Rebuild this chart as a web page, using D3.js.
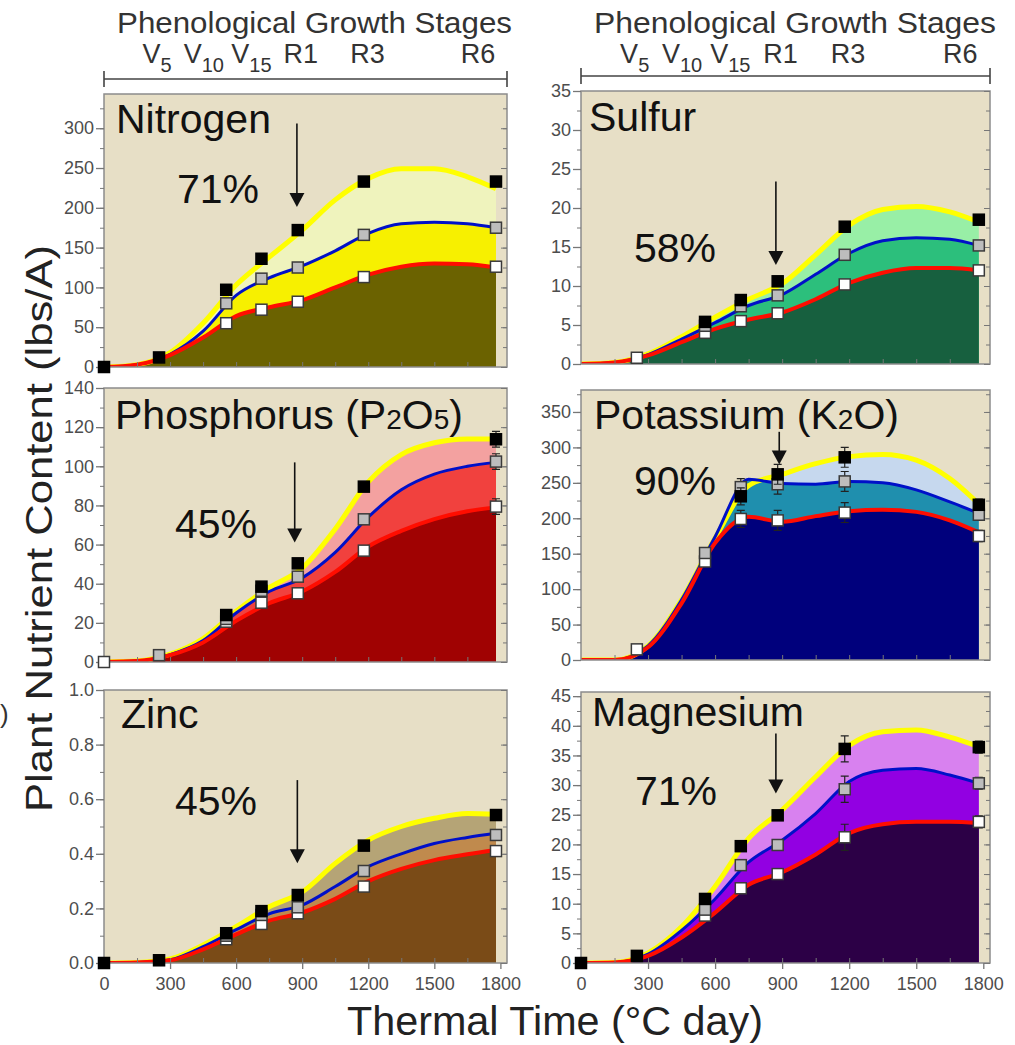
<!DOCTYPE html>
<html>
<head>
<meta charset="utf-8">
<script src="https://cdn.jsdelivr.net/npm/d3@7"></script>
<style>
  body { margin: 0; background: #fff; }
  svg { font-family: "Liberation Sans", Arial, sans-serif; }
</style>
</head>
<body>
<svg id="chart" width="1015" height="1045"></svg>
<script>
// thermal time of the fitted curves and of the sampled points
const tGrid = [0, 150, 300, 450, 600, 750, 900, 1050, 1200, 1350, 1500, 1650, 1780]
const tPts = [0, 250, 555, 715, 880, 1180, 1780]

const stageNames = [['V', '5'], ['V', '10'], ['V', '15'], ['R1', ''], ['R3', ''], ['R6', '']]
const stageTimes = [175, 362, 578, 815, 1118, 1620]

const xTicks = [0, 300, 600, 900, 1200, 1500, 1800]

// Nitrogen
const nTop = [0, 3, 18, 55, 103, 138, 172, 210, 237, 249, 249, 239, 224]
const nMid = [0, 3, 16, 45, 90, 112, 127, 146, 168, 180, 182, 180, 175]
const nBot = [0, 3, 15, 37, 64, 75, 84, 100, 116, 126, 130, 129, 125]
const nBlack = [0, 12, 97, 136, 172, 233, 233]
const nGray = [null, null, 80, 111, 125, 166, 175]
const nWhite = [null, null, 55, 72, 82, 113, 126]

// Sulfur
const sTop = [0, 0.2, 1.3, 3.5, 6.0, 8.3, 10.3, 14.0, 17.8, 19.8, 20.2, 19.5, 18.2]
const sMid = [0, 0.2, 1.2, 3.2, 5.3, 7.5, 8.9, 11.5, 14.2, 15.8, 16.2, 16.0, 15.2]
const sBot = [0, 0.2, 1.1, 2.8, 4.5, 5.7, 6.6, 8.3, 10.4, 11.7, 12.3, 12.3, 12.0]
const sBlack = [null, null, 5.4, 8.2, 10.6, 17.6, 18.5]
const sGray = [null, null, 4.9, 7.4, 8.8, 14.0, 15.2]
const sWhite = [null, 0.8, 4.0, 5.5, 6.5, 10.2, 12.0]

// Phosphorus
const pTop = [0, 0.5, 4, 12, 26, 38, 48, 68, 92, 106, 112, 114, 114]
const pMid = [0, 0.5, 3.8, 11, 25, 36, 43, 56, 74, 88, 96, 100, 102]
const pBot = [0, 0.5, 3.5, 10, 21, 30, 36, 46, 59, 67, 73, 77, 79]
const pBlack = [null, null, 24, 38.5, 50.4, 89.6, 113.8]
const pGray = [null, 3.5, 22, 36.4, 43.6, 72.9, 102.4]
const pWhite = [0, null, 20.6, 30.3, 35.1, 56.9, 79.4]
const pErr = [0, 0, 0, 0, 0, 2, 4]

// Potassium
const kTop = [0, 0, 20, 85, 172, 246, 262, 277, 287, 290, 282, 256, 220]
const kMid = [0, 0, 20, 85, 174, 255, 249, 248, 252, 250, 240, 223, 207]
const kBot = [0, 0, 18, 80, 165, 202, 195, 203, 210, 212, 209, 197, 180]
const kBlack = [null, null, null, 231, 262, 286, 219]
const kGray = [null, null, 151, 244, 248, 252, 205]
const kWhite = [null, 15, 139, 199, 197, 208, 175]
const kErr = [0, 0, 6, 12, 14, 14, 8]

// Zinc
const zTop = [0, 0.002, 0.015, 0.066, 0.133, 0.206, 0.26, 0.365, 0.45, 0.50, 0.53, 0.548, 0.545]
const zMid = [0, 0.002, 0.012, 0.06, 0.122, 0.18, 0.212, 0.28, 0.353, 0.40, 0.438, 0.46, 0.475]
const zBot = [0, 0.002, 0.01, 0.05, 0.105, 0.155, 0.185, 0.235, 0.30, 0.345, 0.377, 0.398, 0.414]
const zBlack = [0, 0.01, 0.109, 0.19, 0.249, 0.43, 0.542]
const zGray = [null, null, 0.10, 0.176, 0.204, 0.337, 0.469]
const zWhite = [null, null, 0.087, 0.143, 0.182, 0.28, 0.41]

// Magnesium
const mTop = [0, 0.1, 1.7, 6.1, 12.9, 21.0, 25.8, 31.4, 36.7, 39.0, 39.3, 38.1, 36.5]
const mMid = [0, 0.1, 1.5, 5.5, 10.8, 17.0, 20.7, 25.2, 30.6, 32.5, 32.8, 31.7, 30.3]
const mBot = [0, 0.1, 1.2, 4.3, 8.5, 13.2, 15.3, 18.3, 21.9, 23.4, 23.8, 23.8, 23.6]
const mBlack = [0, 1.2, 10.8, 19.7, 24.9, 36.1, 36.4]
const mGray = [null, null, 9.0, 16.5, 19.9, 29.3, 30.3]
const mWhite = [null, null, 8.0, 12.6, 15.0, 21.2, 23.8]
const mErr = [0, 0, 0, 0, 0, 2.2, 1]

const none = [0, 0, 0, 0, 0, 0, 0]

const panels = [
  {name: 'Nitrogen', pct: '71%', top: nTop, mid: nMid, bot: nBot, black: nBlack, gray: nGray, white: nWhite, err: none,
   ymax: 343, major: d3.range(0, 301, 50), minor: d3.range(0, 340, 25), fmt: d3.format('d'),
   colors: ['#eff3bd', '#f7f000', '#6b6200'], arrow: [876, 306, 201],
   box: [104, 507, 94, 367], title: [116, 133], pctPos: [218, 203]},
  {name: 'Sulfur', pct: '58%', top: sTop, mid: sMid, bot: sBot, black: sBlack, gray: sGray, white: sWhite, err: none,
   ymax: 35, major: d3.range(0, 36, 5), minor: d3.range(0, 35, 2.5), fmt: d3.format('d'),
   colors: ['#98efa6', '#2cbf7c', '#17603f'], arrow: [872, 23.4, 12.7],
   box: [581, 990, 91, 364], title: [589, 131], pctPos: [675, 262]},
  {name: 'Phosphorus (P', sub: ['2', 'O', '5', ')'], pct: '45%', top: pTop, mid: pMid, bot: pBot, black: pBlack, gray: pGray, white: pWhite, err: pErr,
   ymax: 140, major: d3.range(0, 141, 20), minor: d3.range(0, 140, 10), fmt: d3.format('d'),
   colors: ['#f3a1a0', '#f1413e', '#a00202'], arrow: [866, 102, 61],
   box: [104, 507, 388, 662], title: [115, 429], pctPos: [216, 538]},
  {name: 'Potassium (K', sub: ['2', 'O', '', ')'], pct: '90%', top: kTop, mid: kMid, bot: kBot, black: kBlack, gray: kGray, white: kWhite, err: kErr,
   ymax: 381, major: d3.range(0, 351, 50), minor: d3.range(0, 380, 25), fmt: d3.format('d'),
   colors: ['#c6d8ee', '#1f8fae', '#00007c'], arrow: [887, 322, 276],
   box: [581, 990, 390, 660], title: [594, 429], pctPos: [675, 495]},
  {name: 'Zinc', pct: '45%', top: zTop, mid: zMid, bot: zBot, black: zBlack, gray: zGray, white: zWhite, err: none,
   ymax: 1.0, major: d3.range(0, 1.01, 0.2), minor: d3.range(0, 1.0, 0.1), fmt: d3.format('.1f'),
   colors: ['#b5a476', '#c08a4d', '#7a4b17'], arrow: [878, 0.67, 0.365],
   box: [104, 507, 690, 963], title: [121, 728], pctPos: [216, 815], xlab: true},
  {name: 'Magnesium', pct: '71%', top: mTop, mid: mMid, bot: mBot, black: mBlack, gray: mGray, white: mWhite, err: mErr,
   ymax: 45.7, major: d3.range(0, 46, 5), minor: d3.range(0, 45.5, 2.5), fmt: d3.format('d'),
   colors: ['#d881ef', '#9200e2', '#2c0046'], arrow: [872, 38.7, 28.6],
   box: [581, 990, 692, 963], title: [592, 726], pctPos: [676, 805], xlab: true}
]

const svg = d3.select('#chart')
const defs = svg.append('defs')

panels.forEach((p, i) => {
  const [x0, x1, y0, y1] = p.box
  const x = d3.scaleLinear().domain([0, 1830]).range([x0, x1])
  const y = d3.scaleLinear().domain([0, p.ymax]).range([y1, y0])
  const g = svg.append('g')

  defs.append('clipPath').attr('id', 'clip' + i)
    .append('rect').attr('x', x0).attr('y', y0).attr('width', x1 - x0).attr('height', y1 - y0)

  g.append('rect')
    .attr('x', x0).attr('y', y0).attr('width', x1 - x0).attr('height', y1 - y0)
    .attr('fill', '#e7dfc6')

  const plot = g.append('g').attr('clip-path', `url(#clip${i})`)
  const curve = d3.curveMonotoneX

  // stacked fills: light (to yellow), mid (to blue), dark (to red)
  ;[p.top, p.mid, p.bot].forEach((vals, k) => {
    const area = d3.area().x((d, j) => x(tGrid[j])).y0(y(0)).y1(d => y(d)).curve(curve)
    plot.append('path').datum(vals).attr('d', area).attr('fill', p.colors[k])
  })

  const lineColors = ['#ffff00', '#0010c8', '#ff0d00']
  const lineWidths = [5, 3, 4]
  ;[p.top, p.mid, p.bot].forEach((vals, k) => {
    const line = d3.line().x((d, j) => x(tGrid[j])).y(d => y(d)).curve(curve)
    plot.append('path').datum(vals).attr('d', line)
      .attr('fill', 'none').attr('stroke', lineColors[k]).attr('stroke-width', lineWidths[k])
  })

  // frame
  g.append('rect')
    .attr('x', x0).attr('y', y0).attr('width', x1 - x0).attr('height', y1 - y0)
    .attr('fill', 'none').attr('stroke', '#8c8c8c').attr('stroke-width', 1.5)

  // y axis
  const ya = g.append('g').attr('transform', `translate(${x0},0)`)
    .call(d3.axisLeft(y).tickValues(p.major).tickSize(8).tickPadding(2).tickFormat(p.fmt))
  ya.call(a => a.select('.domain').remove())
  ya.selectAll('line').attr('stroke', '#777').attr('stroke-width', 1.3)
  ya.selectAll('text').attr('font-size', 18).attr('fill', '#4d4d4d')
    .attr('font-family', '"Liberation Sans", Arial, sans-serif')
  g.append('g').attr('transform', `translate(${x0},0)`)
    .call(d3.axisLeft(y).tickValues(p.minor).tickSize(4).tickFormat(''))
    .call(a => a.select('.domain').remove())
    .selectAll('line').attr('stroke', '#777')
  g.append('g').attr('transform', `translate(${x1},0)`)
    .call(d3.axisLeft(y).tickValues(p.minor).tickSize(-4).tickFormat(''))
    .call(a => a.select('.domain').remove())
    .selectAll('line').attr('stroke', '#777').attr('transform', 'translate(-4,0)')
  g.append('g').attr('transform', `translate(${x0},0)`)
    .call(d3.axisLeft(y).tickValues(p.major).tickSize(-6).tickFormat(''))
    .call(a => a.select('.domain').remove())
    .selectAll('line').attr('stroke', '#777').attr('transform', `translate(${x1 - x0 - 6},0)`)

  // x ticks at the bottom edge (inward minor)
  g.append('g').attr('transform', `translate(0,${y1})`)
    .call(d3.axisTop(x).tickValues(d3.range(150, 1800, 150)).tickSize(5).tickFormat(''))
    .call(a => a.select('.domain').remove())
    .selectAll('line').attr('stroke', '#777')

  if (p.xlab) {
    const xa = g.append('g').attr('transform', `translate(0,${y1})`)
      .call(d3.axisBottom(x).tickValues(xTicks).tickSize(6).tickPadding(8).tickFormat(d3.format('d')))
    xa.call(a => a.select('.domain').remove())
    xa.selectAll('line').attr('stroke', '#777').attr('stroke-width', 1.3)
    xa.selectAll('text').attr('font-size', 18).attr('fill', '#4d4d4d')
      .attr('font-family', '"Liberation Sans", Arial, sans-serif')
  }

  // title
  const t = g.append('text').attr('x', p.title[0]).attr('y', p.title[1])
    .attr('font-size', 41).attr('fill', '#111').text(p.name)
  if (p.sub) {
    t.append('tspan').attr('font-size', 28).text(p.sub[0])
    t.append('tspan').attr('font-size', 41).text(p.sub[1])
    if (p.sub[2]) t.append('tspan').attr('font-size', 28).text(p.sub[2])
    t.append('tspan').attr('font-size', 41).text(p.sub[3])
  }

  // percent
  g.append('text').attr('x', p.pctPos[0]).attr('y', p.pctPos[1])
    .attr('text-anchor', 'middle').attr('font-size', 41).attr('fill', '#111').text(p.pct)

  // arrow
  const [ax, aTop, aTip] = p.arrow
  g.append('line').attr('x1', x(ax)).attr('x2', x(ax)).attr('y1', y(aTop)).attr('y2', y(aTip) - 10)
    .attr('stroke', '#111').attr('stroke-width', 1.6)
  g.append('path')
    .attr('d', `M${x(ax) - 7.5},${y(aTip) - 14}L${x(ax) + 7.5},${y(aTip) - 14}L${x(ax)},${y(aTip)}Z`)
    .attr('fill', '#111')

  // markers
  const sets = [
    {vals: p.white, fill: '#ffffff', stroke: '#3a3a3a'},
    {vals: p.gray, fill: '#bdbdbd', stroke: '#3a3a3a'},
    {vals: p.black, fill: '#000000', stroke: '#000000'}
  ]
  sets.forEach(s => {
    const pts = s.vals.map((v, j) => ({t: tPts[j], v: v, e: p.err[j]})).filter(d => d.v !== null)
    g.selectAll(null).data(pts.filter(d => d.e > 0)).enter().append('path')
      .attr('d', d => `M${x(d.t)},${y(d.v - d.e)}V${y(d.v + d.e)}M${x(d.t) - 4},${y(d.v - d.e)}h8M${x(d.t) - 4},${y(d.v + d.e)}h8`)
      .attr('stroke', '#222').attr('stroke-width', 1.2).attr('fill', 'none')
    g.selectAll(null).data(pts).enter().append('rect')
      .attr('x', d => x(d.t) - 5.5).attr('y', d => y(d.v) - 5.5)
      .attr('width', 11).attr('height', 11)
      .attr('fill', s.fill).attr('stroke', s.stroke).attr('stroke-width', 1.5)
  })

  // growth stage header on the top row
  if (i < 2) {
    const hy = y0 - 15
    const h = svg.append('g')
    h.append('path')
      .attr('d', `M${x0},${hy}H${x1}M${x0},${hy - 8}V${hy + 8}M${x1},${hy - 8}V${hy + 8}`)
      .attr('stroke', '#444').attr('stroke-width', 1.6).attr('fill', 'none')
    h.append('text').attr('x', x0 + 13).attr('y', 33)
      .attr('font-size', 29).attr('fill', '#333')
      .attr('textLength', i === 0 ? 395 : 402).attr('lengthAdjust', 'spacingAndGlyphs')
      .text('Phenological Growth Stages')
    stageNames.forEach((s, k) => {
      const st = h.append('text').attr('x', x(stageTimes[k])).attr('y', 63)
        .attr('font-size', 27).attr('fill', '#333').text(s[0])
      if (s[1]) st.append('tspan').attr('font-size', 20).attr('dy', 9).text(s[1])
    })
  }
})

// shared axis titles
svg.append('text').attr('x', 347).attr('y', 1035)
  .attr('font-size', 40).attr('fill', '#222')
  .attr('textLength', 416).attr('lengthAdjust', 'spacingAndGlyphs')
  .text('Thermal Time (°C day)')

svg.append('text').attr('transform', 'translate(52,812) rotate(-90)')
  .attr('font-size', 36).attr('fill', '#222')
  .attr('textLength', 567).attr('lengthAdjust', 'spacingAndGlyphs')
  .text('Plant Nutrient Content (lbs/A)')

// fragment of a glyph at the left edge
svg.append('text').attr('x', 0).attr('y', 723).attr('font-size', 26).attr('fill', '#333').text(')')
</script>
</body>
</html>
